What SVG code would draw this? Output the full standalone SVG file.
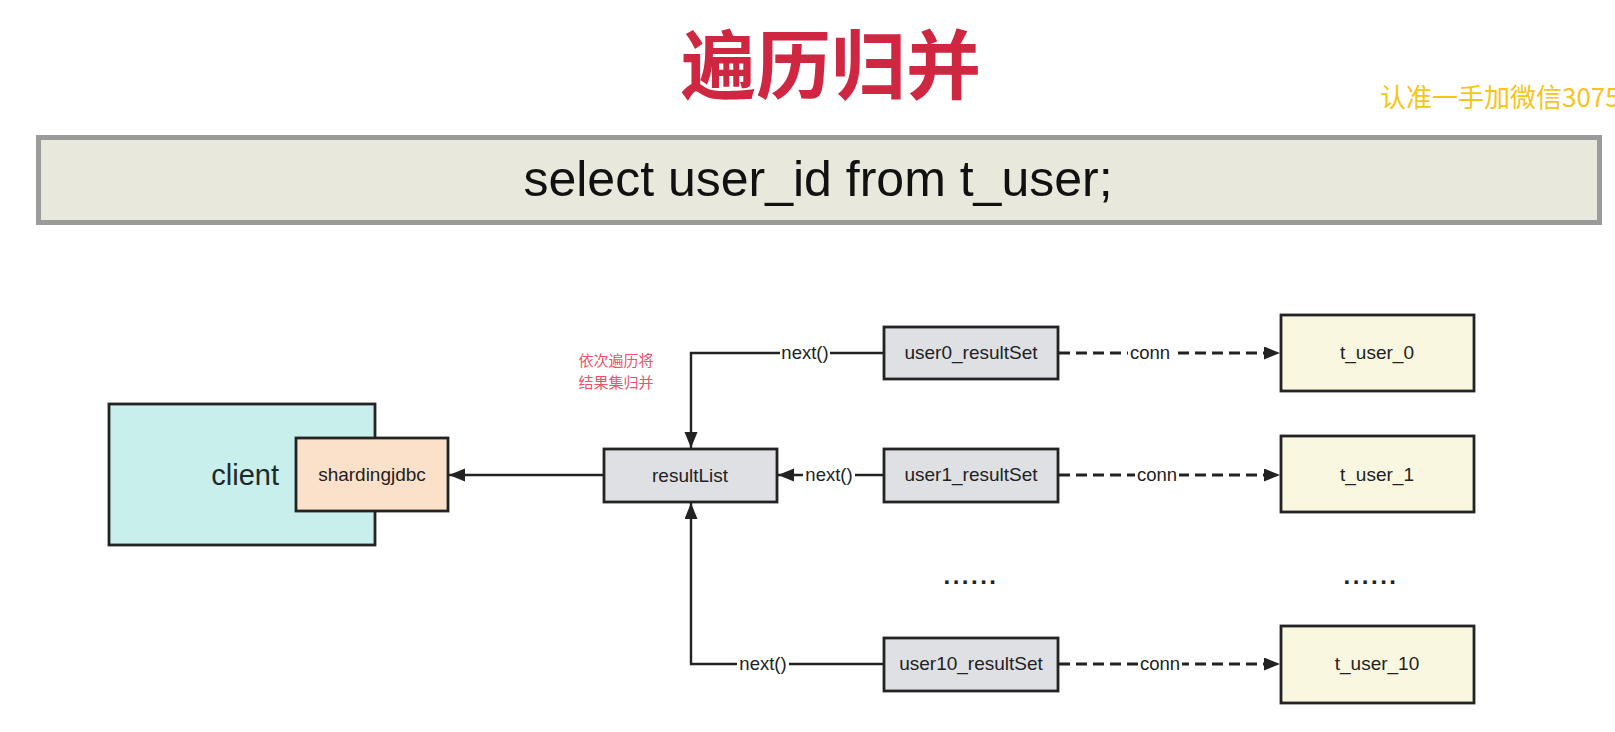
<svg xmlns="http://www.w3.org/2000/svg" width="1615" height="732" viewBox="0 0 1615 732">
<style>
.box{stroke:#232323;stroke-width:2.8}
.lbl{font-family:"Liberation Sans",Arial,sans-serif;font-size:19px;fill:#222;text-anchor:middle}
.ln{fill:none;stroke:#222;stroke-width:2.4}
.dash{fill:none;stroke:#222;stroke-width:2.8;stroke-dasharray:11 6}
.bg{fill:#fff}
.cn{font-family:"Liberation Sans",Arial,sans-serif;font-size:18.5px;fill:#222;text-anchor:middle}
.dots{font-family:"Liberation Sans",Arial,sans-serif;font-size:24px;font-weight:bold;fill:#222;text-anchor:middle;letter-spacing:2.5px}
.note{font-family:"Noto Sans CJK SC",sans-serif;font-size:15px;fill:#f2506a;text-anchor:middle}
</style>
<defs>
<marker id="ah" markerUnits="userSpaceOnUse" markerWidth="18" markerHeight="14" refX="16" refY="6.5" orient="auto">
<path d="M0,0 L16,6.5 L0,13 Z" fill="#222"/>
</marker>
</defs>
<rect width="1615" height="732" fill="#fff"/>
<g id="title">
<text x="831" y="93" font-family="'Noto Sans CJK SC',sans-serif" font-weight="bold" font-size="75" fill="#cf2641" text-anchor="middle">遍历归并</text>
</g>
<g id="watermark">
<text x="1380" y="107" font-family="'Noto Sans CJK SC',sans-serif" font-size="26" fill="#f6c516">认准一手加微信3075</text>
</g>
<g id="sql">
<rect x="38.5" y="137.5" width="1561" height="85" fill="#e9e8dc" stroke="#9b9b9b" stroke-width="5"/>
<text x="818" y="196" font-family="'Liberation Sans',Arial,sans-serif" font-size="50" fill="#111" text-anchor="middle">select user_id from t_user;</text>
</g>
<g id="connectors">
<path class="ln" d="M604,475 H449" marker-end="url(#ah)"/>
<path class="ln" d="M884,353 H691 V448" marker-end="url(#ah)"/>
<path class="ln" d="M884,475 H778" marker-end="url(#ah)"/>
<path class="ln" d="M884,664 H691 V503" marker-end="url(#ah)"/>
<path class="dash" d="M1059,353 H1280" marker-end="url(#ah)"/>
<path class="dash" d="M1059,475 H1280" marker-end="url(#ah)"/>
<path class="dash" d="M1059,664 H1280" marker-end="url(#ah)"/>
<rect class="bg" x="780" y="342" width="50" height="22"/>
<text class="cn" x="805" y="359">next()</text>
<rect class="bg" x="803" y="464" width="52" height="22"/>
<text class="cn" x="829" y="481">next()</text>
<rect class="bg" x="737" y="653" width="52" height="22"/>
<text class="cn" x="763" y="670">next()</text>
<rect class="bg" x="1128" y="342" width="44" height="22"/>
<text class="cn" x="1150" y="359">conn</text>
<rect class="bg" x="1135" y="464" width="44" height="22"/>
<text class="cn" x="1157" y="481">conn</text>
<rect class="bg" x="1138" y="653" width="44" height="22"/>
<text class="cn" x="1160" y="670">conn</text>
</g>
<g id="note">
<text class="note" x="616" y="366">依次遍历将</text>
<text class="note" x="616" y="388">结果集归并</text>
</g>
<g id="client">
<rect class="box" x="109" y="404" width="266" height="141" fill="#c9efed"/>
<text x="279" y="485" font-family="'Liberation Sans',Arial,sans-serif" font-size="29" fill="#1e2a2a" text-anchor="end">client</text>
</g>
<g id="shardingjdbc">
<rect class="box" x="296" y="438" width="152" height="73" fill="#fbe1c9"/>
<text class="lbl" x="372" y="481">shardingjdbc</text>
</g>
<g id="resultList">
<rect class="box" x="604" y="449" width="173" height="53" fill="#dee0e4"/>
<text class="lbl" x="690" y="482">resultList</text>
</g>
<g id="user0_resultSet">
<rect class="box" x="884" y="327" width="174" height="52" fill="#dee0e4"/>
<text class="lbl" x="971" y="359">user0_resultSet</text>
</g>
<g id="user1_resultSet">
<rect class="box" x="884" y="449" width="174" height="53" fill="#dee0e4"/>
<text class="lbl" x="971" y="481">user1_resultSet</text>
</g>
<g id="user10_resultSet">
<rect class="box" x="884" y="638" width="174" height="53" fill="#dee0e4"/>
<text class="lbl" x="971" y="670">user10_resultSet</text>
</g>
<g id="t_user_0">
<rect class="box" x="1281" y="315" width="193" height="76" fill="#f9f7df"/>
<text class="lbl" x="1377" y="359">t_user_0</text>
</g>
<g id="t_user_1">
<rect class="box" x="1281" y="436" width="193" height="76" fill="#f9f7df"/>
<text class="lbl" x="1377" y="481">t_user_1</text>
</g>
<g id="t_user_10">
<rect class="box" x="1281" y="626" width="193" height="77" fill="#f9f7df"/>
<text class="lbl" x="1377" y="670">t_user_10</text>
</g>
<g id="dots">
<text class="dots" x="971" y="584">......</text>
<text class="dots" x="1371" y="584">......</text>
</g>
</svg>
